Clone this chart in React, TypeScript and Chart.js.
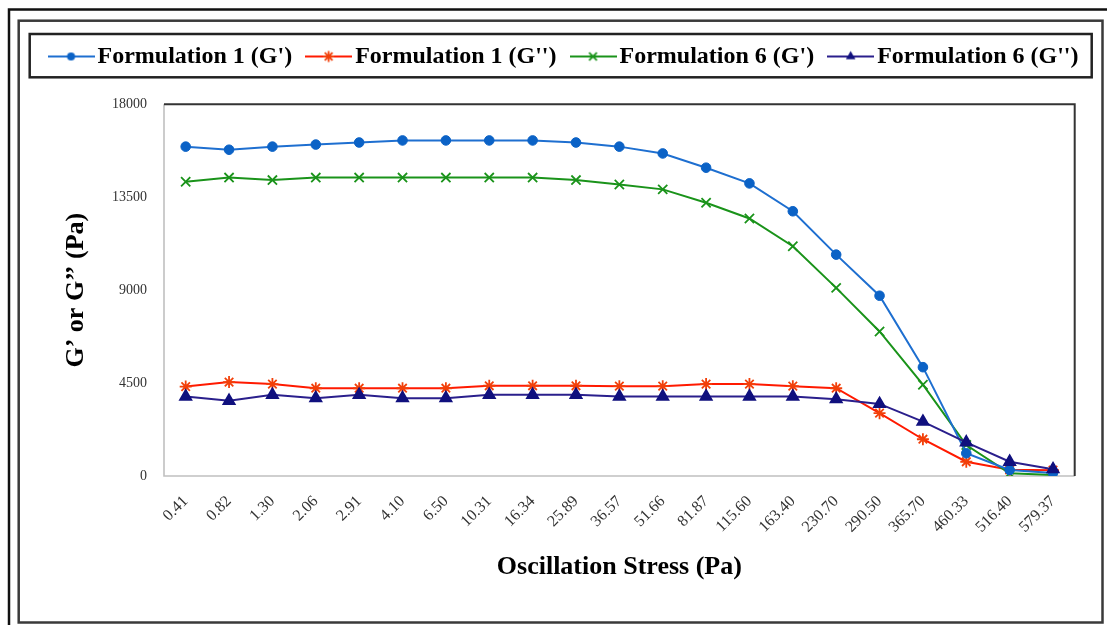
import React, { useEffect, useRef } from 'react';
import { Chart, registerables } from 'chart.js';

Chart.register(...registerables);

const FONT = "'Liberation Serif', 'Times New Roman', Times, serif";

const categories = ['0.41', '0.82', '1.30', '2.06', '2.91', '4.10', '6.50', '10.31', '16.34', '25.89', '36.57', '51.66', '81.87', '115.60', '163.40', '230.70', '290.50', '365.70', '460.33', '516.40', '579.37'];

const f1GPrime = [15950, 15800, 15950, 16050, 16150, 16250, 16250, 16250, 16250, 16150, 15950, 15620, 14930, 14170, 12820, 10720, 8730, 5270, 1100, 290, 150];
const f1GDouble = [4330, 4550, 4450, 4250, 4250, 4250, 4250, 4370, 4370, 4370, 4350, 4350, 4450, 4450, 4350, 4250, 3040, 1780, 690, 300, 280];
const f6GPrime = [14250, 14450, 14330, 14450, 14450, 14450, 14450, 14450, 14450, 14330, 14120, 13880, 13230, 12470, 11130, 9110, 7000, 4420, 1500, 130, 50];
const f6GDouble = [3850, 3640, 3930, 3770, 3930, 3770, 3770, 3930, 3930, 3930, 3850, 3850, 3850, 3850, 3850, 3720, 3490, 2630, 1630, 690, 330];

const yTicks = [0, 4500, 9000, 13500, 18000];
const seriesLabels = ["Formulation 1 (G')", "Formulation 1 (G'')", "Formulation 6 (G')", "Formulation 6 (G'')"];
const xTitle = 'Oscillation Stress (Pa)';
const yTitle = 'G\u2019 or G\u2019\u2019 (Pa)';

type MarkerStyle = 'circle' | 'star' | 'crossRot' | 'triangle';

const seriesStyles: { line: string; marker: string; style: MarkerStyle; radius: number }[] = [
  { line: '#1E6FD0', marker: '#0B62C6', style: 'circle', radius: 4.8 },
  { line: '#FF1A00', marker: '#F2400A', style: 'star', radius: 6 },
  { line: '#1A931A', marker: '#1A931A', style: 'crossRot', radius: 6.5 },
  { line: '#2A1F8C', marker: '#10107E', style: 'triangle', radius: 6.5 },
];

function drawMarker(ctx: CanvasRenderingContext2D, style: MarkerStyle, x: number, y: number, r: number, color: string) {
  ctx.fillStyle = color;
  ctx.strokeStyle = color;
  ctx.lineWidth = 1.8;
  ctx.beginPath();
  if (style === 'circle') {
    ctx.arc(x, y, r, 0, Math.PI * 2);
    ctx.fill();
  } else if (style === 'star') {
    const d = r * Math.SQRT1_2;
    ctx.moveTo(x - r, y); ctx.lineTo(x + r, y);
    ctx.moveTo(x, y - r); ctx.lineTo(x, y + r);
    ctx.moveTo(x - d, y - d); ctx.lineTo(x + d, y + d);
    ctx.moveTo(x - d, y + d); ctx.lineTo(x + d, y - d);
    ctx.stroke();
  } else if (style === 'crossRot') {
    const d = r * Math.SQRT1_2;
    ctx.moveTo(x - d, y - d); ctx.lineTo(x + d, y + d);
    ctx.moveTo(x - d, y + d); ctx.lineTo(x + d, y - d);
    ctx.stroke();
  } else {
    const h = r * 1.5;
    ctx.moveTo(x, y - r);
    ctx.lineTo(x + h * 0.577, y + r * 0.5);
    ctx.lineTo(x - h * 0.577, y + r * 0.5);
    ctx.closePath();
    ctx.fill();
  }
}

function makeLegendIcon(i: number): HTMLCanvasElement {
  const s = seriesStyles[i];
  const c = document.createElement('canvas');
  c.width = 47;
  c.height = 16;
  const ctx = c.getContext('2d')!;
  ctx.strokeStyle = s.line;
  ctx.lineWidth = 2;
  ctx.beginPath();
  ctx.moveTo(0, 8);
  ctx.lineTo(47, 8);
  ctx.stroke();
  drawMarker(ctx, s.style, 23.5, 8, s.style === 'circle' ? 4 : 5.5, s.marker);
  return c;
}

const framePlugin = {
  id: 'frames',
  beforeDraw(chart: any) {
    const ctx = chart.ctx as CanvasRenderingContext2D;
    ctx.save();
    ctx.fillStyle = '#ffffff';
    ctx.fillRect(0, 0, chart.width, chart.height);
    ctx.lineWidth = 2.5;
    ctx.strokeStyle = '#111111';
    ctx.beginPath();
    ctx.moveTo(9, chart.height + 5);
    ctx.lineTo(9, 9.5);
    ctx.lineTo(chart.width + 5, 9.5);
    ctx.stroke();
    ctx.strokeStyle = '#3a3a3a';
    ctx.strokeRect(18.7, 20.7, 1102.5 - 18.7, 622.5 - 20.7);
    ctx.strokeStyle = '#222222';
    ctx.strokeRect(29.7, 34, 1091.7 - 29.7, 77.3 - 34);
    ctx.restore();
  },
  beforeDatasetsDraw(chart: any) {
    const { left, right, top, bottom } = chart.chartArea;
    const ctx = chart.ctx as CanvasRenderingContext2D;
    ctx.save();
    ctx.lineWidth = 1.6;
    ctx.strokeStyle = '#c0c0c0';
    ctx.beginPath();
    ctx.moveTo(left, top);
    ctx.lineTo(left, bottom);
    ctx.lineTo(right, bottom);
    ctx.stroke();
    ctx.lineWidth = 2;
    ctx.strokeStyle = '#333333';
    ctx.beginPath();
    ctx.moveTo(left, top);
    ctx.lineTo(right, top);
    ctx.lineTo(right, bottom);
    ctx.stroke();
    ctx.restore();
  },
};

// Keeps all four legend items on one row and leaves a gap below the legend.
const legendSpacer = {
  id: 'legendSpacer',
  beforeInit(chart: any) {
    const legend = chart.legend;
    if (!legend) return;
    const origFit = legend.fit;
    legend.fit = function () {
      const mw = this.maxWidth;
      this.maxWidth = mw + 300;
      origFit.call(this);
      this.maxWidth = mw;
      this.width = Math.min(this.width, mw);
      this.height += 25.8;
    };
  },
};

export default function App() {
  const ref = useRef<HTMLCanvasElement>(null);

  useEffect(() => {
    const icons = seriesLabels.map((_, i) => makeLegendIcon(i));
    const dataSeries = [f1GPrime, f1GDouble, f6GPrime, f6GDouble];
    const chart = new Chart(ref.current!, {
      type: 'line',
      data: {
        labels: categories,
        datasets: dataSeries.map((d, i) => ({
          label: seriesLabels[i],
          data: d,
          borderColor: seriesStyles[i].line,
          backgroundColor: seriesStyles[i].marker,
          borderWidth: 2,
          pointStyle: seriesStyles[i].style,
          pointRadius: seriesStyles[i].radius,
          pointHoverRadius: seriesStyles[i].radius,
          pointBackgroundColor: seriesStyles[i].marker,
          pointBorderColor: seriesStyles[i].marker,
          pointBorderWidth: seriesStyles[i].style === 'circle' ? 1 : 1.8,
          tension: 0,
          fill: false,
          order: i === 3 ? 0 : i === 0 ? 1 : i === 2 ? 2 : 3,
        })),
      },
      options: {
        responsive: false,
        animation: false,
        layout: { padding: { left: 28, right: 0, top: 22.5, bottom: 20 } },
        plugins: {
          tooltip: { enabled: false },
          legend: {
            display: true,
            position: 'top',
            labels: {
              usePointStyle: true,
              pointStyleWidth: 29,
              padding: 22,
              color: '#000000',
              font: { family: FONT, size: 24, weight: 'bold' },
              generateLabels: () =>
                seriesLabels.map((t, i) => ({
                  text: t,
                  pointStyle: icons[i] as any,
                  datasetIndex: i,
                  hidden: false,
                  lineWidth: 0,
                  strokeStyle: 'rgba(0,0,0,0)',
                  fillStyle: 'rgba(0,0,0,0)',
                  fontColor: '#000000',
                })),
            },
          },
        },
        scales: {
          x: {
            type: 'category',
            offset: true,
            grid: { display: false, drawTicks: false },
            border: { display: false },
            ticks: {
              autoSkip: false,
              minRotation: 45,
              maxRotation: 45,
              padding: 16,
              color: '#333333',
              font: { family: FONT, size: 16 },
            },
            title: {
              display: true,
              text: xTitle,
              color: '#000000',
              font: { family: FONT, size: 26, weight: 'bold' },
              padding: { top: 0, bottom: 22.4 },
            },
            afterFit(scale: any) {
              scale.height = 129;
            },
          },
          y: {
            type: 'linear',
            min: 0,
            max: 18000,
            grid: { display: false, drawTicks: false },
            border: { display: false },
            afterBuildTicks(scale: any) {
              scale.ticks = yTicks.map((v) => ({ value: v }));
            },
            ticks: {
              padding: 17,
              color: '#333333',
              font: { family: FONT, size: 14 },
              callback: (v: any) => String(v),
            },
            title: {
              display: true,
              text: yTitle,
              color: '#000000',
              font: { family: FONT, size: 26, weight: 'bold' },
              padding: { top: 32.4, bottom: 0 },
            },
            afterFit(scale: any) {
              scale.width = 136;
            },
          },
          yRight: {
            type: 'linear',
            position: 'right',
            display: true,
            grid: { display: false, drawTicks: false },
            border: { display: false },
            ticks: { display: false },
            afterFit(scale: any) {
              scale.width = 32.3;
            },
          },
        },
      },
      plugins: [framePlugin, legendSpacer],
    } as any);
    return () => chart.destroy();
  }, []);

  return (
    <div style={{ position: 'fixed', left: 0, top: 0, width: 1107, height: 625, background: '#fff' }}>
      <canvas ref={ref} width={1107} height={625} style={{ display: 'block' }} />
    </div>
  );
}
